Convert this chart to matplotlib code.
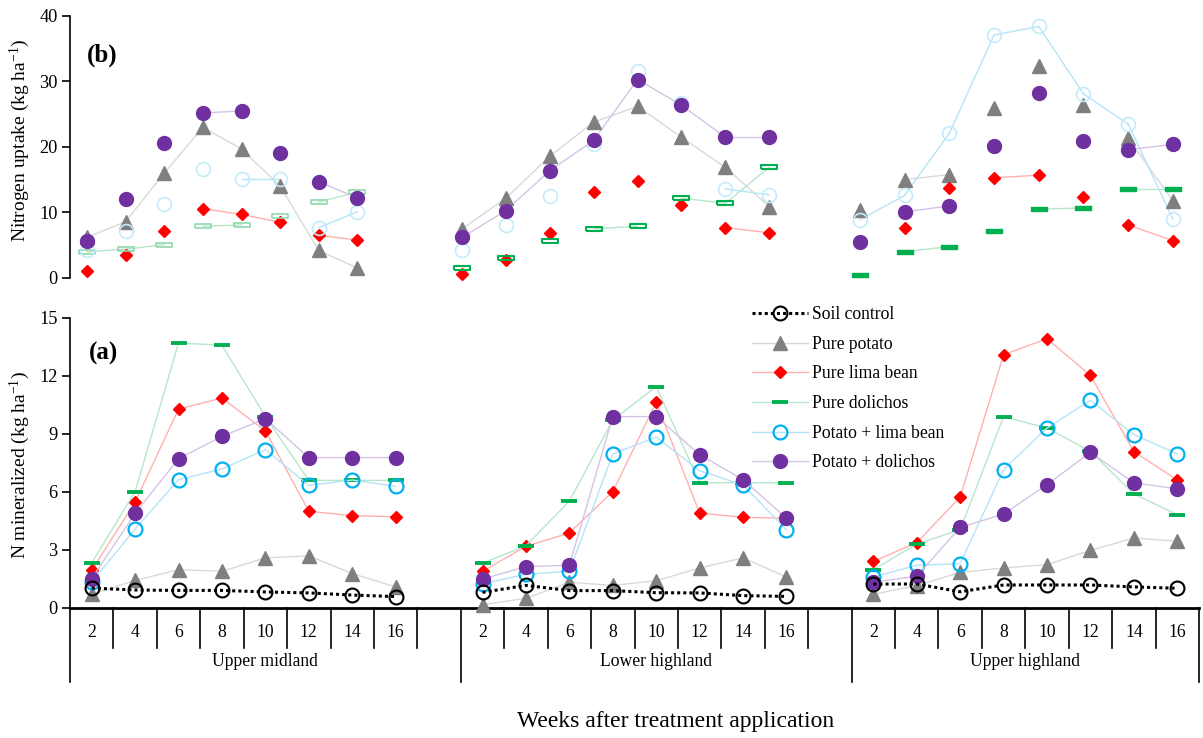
import numpy as np
import matplotlib
matplotlib.use('Agg')
import matplotlib.pyplot as plt
from matplotlib.lines import Line2D

plt.rcParams['font.family'] = ['Liberation Serif', 'DejaVu Serif']
plt.rcParams['mathtext.fontset'] = 'custom'
plt.rcParams['mathtext.rm'] = 'Liberation Serif'
plt.rcParams['mathtext.it'] = 'Liberation Serif:italic'
plt.rcParams['mathtext.bf'] = 'Liberation Serif:bold'

weeks = [2, 4, 6, 8, 10, 12, 14, 16]
sites = ['Upper midland', 'Lower highland', 'Upper highland']
labels = ['Soil control', 'Pure potato', 'Pure lima bean', 'Pure dolichos',
          'Potato + lima bean', 'Potato + dolichos']

# (a) N mineralized (kg/ha), one row per site
soil_min = [[1.03, 0.93, 0.91, 0.91, 0.83, 0.78, 0.67, 0.59],
            [0.81, 1.17, 0.90, 0.90, 0.79, 0.78, 0.64, 0.60],
            [1.24, 1.24, 0.84, 1.19, 1.19, 1.19, 1.09, 1.02]]
potato_min = [[0.70, 1.43, 1.98, 1.90, 2.59, 2.70, 1.78, 1.09],
              [0.17, 0.50, 1.33, 1.17, 1.41, 2.07, 2.59, 1.60],
              [0.71, 1.16, 1.84, 2.07, 2.24, 2.98, 3.62, 3.45]]
lima_min = [[1.95, 5.48, 10.29, 10.86, 9.16, 5.00, 4.78, 4.72],
            [1.90, 3.19, 3.88, 6.02, 10.64, 4.91, 4.69, 4.64],
            [2.41, 3.38, 5.74, 13.10, 13.93, 12.03, 8.09, 6.62]]
dolichos_min = [[2.33, 6.02, 13.71, 13.59, 9.90, 6.60, 6.60, 6.60],
                [2.31, 3.22, 5.53, 9.72, 11.45, 6.48, 6.48, 6.48],
                [1.98, 3.31, 4.05, 9.90, 9.31, 8.10, 5.90, 4.83]]
pot_lima_min = [[1.34, 4.09, 6.64, 7.19, 8.19, 6.34, 6.62, 6.29],
                [1.26, 1.74, 1.90, 7.97, 8.84, 7.10, 6.36, 4.05],
                [1.60, 2.21, 2.29, 7.16, 9.31, 10.74, 8.97, 7.97]]
pot_dol_min = [[1.52, 4.90, 7.72, 8.88, 9.79, 7.78, 7.78, 7.78],
               [1.50, 2.14, 2.21, 9.90, 9.90, 7.93, 6.64, 4.64],
               [1.34, 1.64, 4.17, 4.86, 6.38, 8.05, 6.48, 6.16]]

# (b) Nitrogen uptake (kg/ha), one row per site
potato_up = [[6.2, 8.6, 16.0, 23.0, 19.7, 14.0, 4.2, 1.5],
             [7.5, 12.2, 18.6, 23.8, 26.2, 21.5, 16.9, 10.9],
             [10.4, 15.0, 15.8, 25.9, 32.4, 26.4, 21.3, 11.8]]
lima_up = [[1.0, 3.5, 7.2, 10.6, 9.7, 8.5, 6.5, 5.8],
           [0.6, 2.7, 6.8, 13.1, 14.8, 11.2, 7.7, 6.9],
           [np.nan, 7.6, 13.7, 15.3, 15.7, 12.4, 8.1, 5.7]]
dolichos_up = [[4.0, 4.4, 5.1, 7.9, 8.1, 9.4, 11.6, 13.1],
               [1.6, 3.0, 5.7, 7.5, 7.9, 12.2, 11.4, 16.9],
               [0.5, 4.0, 4.8, 7.2, 10.5, 10.7, 13.6, 13.6]]
pot_lima_up = [[4.2, 7.1, 11.3, 16.6, 15.1, 15.1, 7.7, 10.1],
               [4.3, 8.1, 12.5, 20.5, 31.6, 26.7, 13.6, 12.7],
               [8.9, 12.6, 22.1, 37.1, 38.4, 28.1, 23.5, 9.0]]
pot_dol_up = [[5.7, 12.1, 20.6, 25.2, 25.5, 19.1, 14.7, 12.2],
              [6.2, 10.3, 16.4, 21.0, 30.3, 26.4, 21.5, 21.5],
              [5.5, 10.1, 11.0, 20.2, 28.3, 20.9, 19.6, 20.4]]

# segments that are drawn between points in panel (b): start index of each link
top_links = {
    'potato': [[0, 1, 2, 3, 4, 5, 6], [0, 1, 2, 3, 4, 5, 6], [1, 6]],
    'lima': [[3, 4, 6], [6], [3, 6]],
    'dolichos': [[0, 1, 3, 6], [3, 5, 6], [1, 4, 6]],
    'pot_lima': [[4, 6], [6], [0, 1, 2, 3, 4, 5, 6]],
    'pot_dol': [[3, 6], [0, 1, 2, 3, 4, 5, 6], [1, 6]],
}

# styles
rect = [(-1, -0.28), (1, -0.28), (1, 0.28), (-1, 0.28), (-1, -0.28)]
st = {
    'soil': dict(color='black', ls=(0, (1, 1)), lw=2.2, marker='o', ms=10,
                 mfc='none', mec='black', mew=1.5),
    'potato': dict(color='#d9d9d9', lw=1, marker='^', ms=10, mfc='#7f7f7f', mec='#7f7f7f'),
    'lima': dict(color='#ffb0b0', lw=1, marker='D', ms=6.5, mfc='#ff0000', mec='#ff0000'),
    'dolichos': dict(color='#b8e6cb', lw=1, marker='_', ms=11, mec='#00b050', mew=2.8),
    'pot_lima': dict(color='#b5e4f8', lw=1, marker='o', ms=10, mfc='none',
                     mec='#00b0f0', mew=1.6),
    'pot_dol': dict(color='#d5c3e6', lw=1, marker='o', ms=10, mfc='#7030a0', mec='#7030a0'),
}

FS = 12.7
W, H = 1203, 738
fig = plt.figure(figsize=(W / 100, H / 100), dpi=100)
x0, x1 = 70, 1199
axb = fig.add_axes([x0 / W, 1 - 608 / H, (x1 - x0) / W, 290 / H])
axt = fig.add_axes([x0 / W, 1 - 278 / H, (x1 - x0) / W, 262 / H])

nslots = 26
for ax in (axb, axt):
    ax.set_xlim(0, nslots)
    ax.spines['top'].set_visible(False)
    ax.spines['right'].set_visible(False)
    ax.set_xticks([])
    ax.tick_params(axis='y', direction='out', length=6, width=1.2, labelsize=FS + 0.5, pad=3)
    ax.spines['left'].set_linewidth(1.2)

# ---- panel (a)
axb.set_ylim(0, 15)
axb.set_yticks([0, 3, 6, 9, 12, 15])
axb.spines['bottom'].set_linewidth(2)

series_min = [('potato', potato_min), ('lima', lima_min), ('dolichos', dolichos_min),
              ('pot_lima', pot_lima_min), ('pot_dol', pot_dol_min), ('soil', soil_min)]
for g in range(3):
    xs = g * 9 + np.arange(len(weeks)) + 0.5
    for key, vals in series_min:
        axb.plot(xs, vals[g], clip_on=False, zorder=3, **st[key])

# category axis
tr = axb.get_xaxis_transform()
for g, site in enumerate(sites):
    base = g * 9
    for i, w in enumerate(weeks):
        axb.text(base + i + 0.5, -0.083, str(w), transform=tr, ha='center', va='center', fontsize=FS)
    axb.text(base + 4.5 if g < 2 else base + 4, -0.186, site, transform=tr,
             ha='center', va='center', fontsize=FS)
    for b in range(1, 9 if g < 2 else 8):
        axb.plot([base + b] * 2, [0, -0.138], transform=tr, color='black', lw=1.2, clip_on=False)
for b in (0, 9, 18, 26):
    axb.plot([b] * 2, [0, -0.255], transform=tr, color='black', lw=1.2, clip_on=False)

# ---- panel (b)
axt.set_ylim(0, 40)
axt.set_yticks([0, 10, 20, 30, 40])
axt.spines['bottom'].set_visible(False)

top_start = [0.39, 9.03, 18.19]
top_step = [0.89, 1.01, 1.03]
series_up = [('potato', potato_up), ('lima', lima_up), ('dolichos', dolichos_up),
             ('pot_lima', pot_lima_up), ('pot_dol', pot_dol_up)]
top_marker = {
    'potato': [{}, {}, {}],
    'lima': [{}, {}, {}],
    'dolichos': [dict(marker=rect, ms=12, mew=1.2, mfc='none', mec='#8fd8ae'),
                 dict(marker=rect, ms=12, mew=1.5, mfc='none', mec='#00b050'),
                 dict(marker=rect, ms=12, mew=1.0, mfc='#00b050', mec='#00b050')],
    'pot_lima': [dict(mec='#c4ebfb', mew=1.2)] * 3,
    'pot_dol': [{}, {}, {}],
}
for g in range(3):
    xs = top_start[g] + np.arange(len(weeks)) * top_step[g]
    for key, vals in series_up:
        s = dict(st[key])
        s.update(top_marker[key][g])
        ys = np.array(vals[g], dtype=float)
        lc = s.pop('color')
        lw = s.pop('lw')
        for i in top_links[key][g]:
            axt.plot(xs[i:i + 2], ys[i:i + 2], color=lc, lw=lw, zorder=2)
        axt.plot(xs, ys, ls='none', zorder=3, clip_on=False, **s)

# ---- text
fig.text(20 / W, 1 - 140 / H, 'Nitrogen uptake (kg ha$^{-1}$)', rotation=90,
         ha='center', va='center', fontsize=14)
fig.text(20 / W, 1 - 465 / H, 'N mineralized (kg ha$^{-1}$)', rotation=90,
         ha='center', va='center', fontsize=14)
fig.text(102 / W, 1 - 55 / H, '(b)', fontsize=18, fontweight='bold', ha='center', va='center')
fig.text(104 / W, 1 - 353 / H, '(a)', fontsize=18, fontweight='bold', ha='center', va='center')
fig.text(676 / W, 1 - 722 / H, 'Weeks after treatment application', fontsize=17,
         ha='center', va='center')

order = ['soil', 'potato', 'lima', 'dolichos', 'pot_lima', 'pot_dol']
handles = [Line2D([], [], **st[k]) for k in order]
fig.legend(handles, labels, loc='upper left', bbox_to_anchor=(752 / W, 1 - 306 / H),
           frameon=False, fontsize=FS, handlelength=3.2, handletextpad=0.2,
           labelspacing=0.72, borderpad=0, borderaxespad=0)

fig.savefig('out.png', dpi=100)
